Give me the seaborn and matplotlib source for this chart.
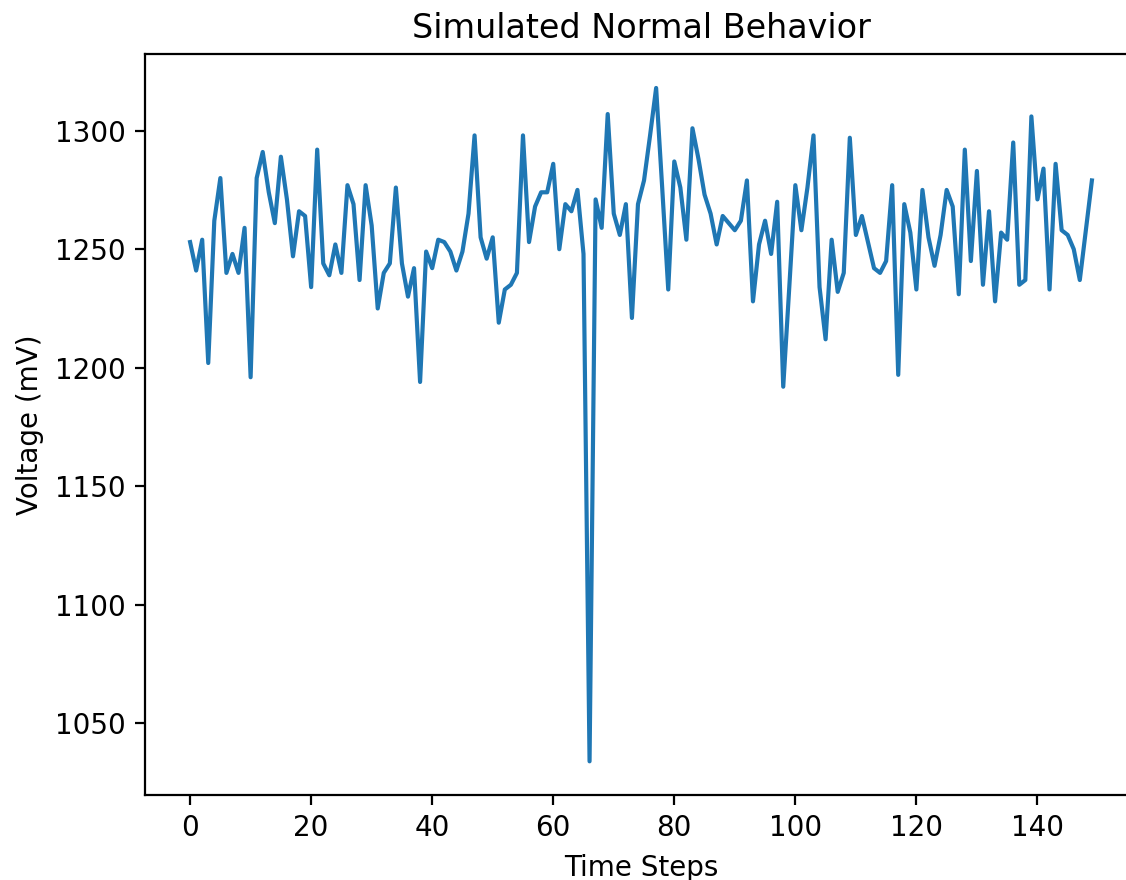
import matplotlib
matplotlib.use("Agg")
import matplotlib.pyplot as plt
import seaborn as sns
import pandas as pd

voltage = [
    1253, 1241, 1254, 1202, 1262, 1280, 1240, 1248, 1240, 1259,
    1196, 1280, 1291, 1274, 1261, 1289, 1271, 1247, 1266, 1264,
    1234, 1292, 1244, 1239, 1252, 1240, 1277, 1269, 1237, 1277,
    1260, 1225, 1240, 1244, 1276, 1244, 1230, 1242, 1194, 1249,
    1242, 1254, 1253, 1249, 1241, 1249, 1265, 1298, 1255, 1246,
    1255, 1219, 1233, 1235, 1240, 1298, 1253, 1268, 1274, 1274,
    1286, 1250, 1269, 1266, 1275, 1248, 1034, 1271, 1259, 1307,
    1265, 1256, 1269, 1221, 1269, 1279, 1298, 1318, 1276, 1233,
    1287, 1276, 1254, 1301, 1288, 1273, 1265, 1252, 1264, 1261,
    1258, 1262, 1279, 1228, 1252, 1262, 1248, 1270, 1192, 1234,
    1277, 1258, 1276, 1298, 1234, 1212, 1254, 1232, 1240, 1297,
    1256, 1264, 1253, 1242, 1240, 1245, 1277, 1197, 1269, 1257,
    1233, 1275, 1255, 1243, 1256, 1275, 1268, 1231, 1292, 1245,
    1283, 1235, 1266, 1228, 1257, 1254, 1295, 1235, 1237, 1306,
    1271, 1284, 1233, 1286, 1258, 1256, 1250, 1237, 1258, 1279,
]
time_steps = list(range(len(voltage)))

title = "Simulated Normal Behavior"
x_label = "Time Steps"
y_label = "Voltage (mV)"

df = pd.DataFrame({"t": time_steps, "v": voltage})

fig = plt.figure(figsize=(5.63, 4.4), dpi=200)
ax = fig.add_axes([145 / 1126, 85 / 880, 992 / 1126, 740.7 / 880])
sns.lineplot(data=df, x="t", y="v", ax=ax, color="#1f77b4", linewidth=1.5)
ax.set_title(title, fontsize=12)
ax.set_xlabel(x_label, fontsize=10)
ax.set_ylabel(y_label, fontsize=10)
ax.set_xticks([0, 20, 40, 60, 80, 100, 120, 140])
ax.set_yticks([1050, 1100, 1150, 1200, 1250, 1300])
fig.savefig("out.png", dpi=200)
